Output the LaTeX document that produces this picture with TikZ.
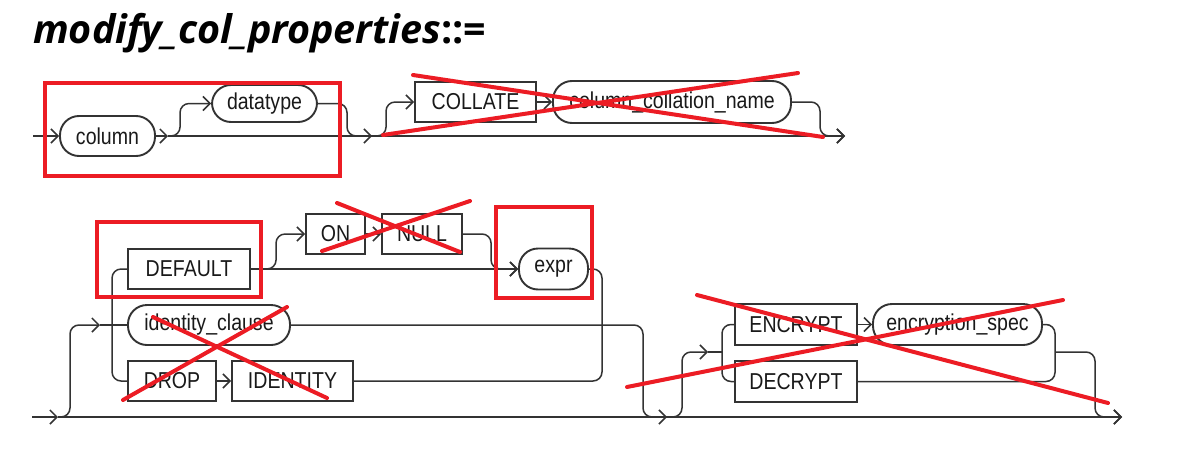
\documentclass[tikz,border=0pt]{standalone}
\usepackage{fontspec}
\usetikzlibrary{arrows.meta,calc}
\newfontfamily\diagfont[FakeStretch=0.85]{Liberation Sans}
\newfontfamily\titlefont{Open Sans}
\definecolor{ink}{HTML}{333333}
\definecolor{mark}{HTML}{EC1C24}
\tikzset{
  x=1pt, y=-1pt,
  kw/.style={draw=ink, line width=1.9pt, rectangle, inner sep=0pt, minimum height=40pt,
     font=\diagfont\fontsize{23}{26}\selectfont, text=black!90},
  nt/.style={kw, rounded corners=19pt},
  conn/.style={draw=ink, line width=1.5pt, rounded corners=9pt},
  arr/.style={conn, -{Straight Barb[length=7pt,width=14pt,line width=1.5pt]}},
  redbox/.style={draw=mark, line width=3.6pt},
  redx/.style={draw=mark, line width=4pt, line cap=round},
}
\begin{document}
\begin{tikzpicture}
\useasboundingbox[fill=white] (0,0) rectangle (1204,466);

% title
\node[anchor=base west, inner sep=0pt] (title) at (33,43)
  {\titlefont\fontsize{39.5}{42}\selectfont\bfseries{\itshape modify\_col\_properties}::=};

% ---------- row 1 ----------
\node[nt, minimum width=95pt]  (column)   at (107.5,136) {column};
\node[nt, minimum width=105pt, minimum height=37pt] (datatype) at (264.5,103.5) {datatype};
\node[kw, minimum width=121pt] (collate)  at (475.5,102) {COLLATE};
\node[nt, minimum width=238pt, minimum height=42pt] (collname) at (672,102) {column\_collation\_name};

\coordinate (s1) at (33,136);
\coordinate (j1) at (168,136);
\coordinate (j2) at (372,136);
\coordinate (e1) at (845,136);

\draw[arr] (s1) -- (column.west);
\draw[arr] (column.east) -- (j1);
\draw[conn] (j1) -- (j2);
\draw[arr] (j2) -- (e1);
\draw[arr] (j1) -| ([xshift=-31pt]datatype.west) -- (datatype.west);
\draw[arr] (datatype.east) -| ([xshift=-25pt]j2) -- (j2);
\draw[arr] (j2) -| ([xshift=-28pt]collate.west) -- (collate.west);
\draw[arr] (collate.east) -- (collname.west);
\draw[arr] (collname.east) -| ([xshift=-25pt]e1) -- (e1);

% ---------- row 2 ----------
\node[kw, minimum width=122pt] (default)  at (189,269) {DEFAULT};
\node[nt, minimum width=162pt] (idc)      at (209,325) {identity\_clause};
\node[kw, minimum width=88pt]  (drop)     at (172,381) {DROP};
\node[kw, minimum width=121pt] (identity) at (292.5,381) {IDENTITY};
\node[kw, minimum width=59pt]  (on)       at (335.5,234) {ON};
\node[kw, minimum width=80pt]  (null)     at (422,234) {NULL};
\node[nt, minimum width=69pt, minimum height=41pt] (expr) at (553.5,269) {expr};
\node[kw, minimum width=122pt, minimum height=41pt] (encrypt) at (796,324.5) {ENCRYPT};
\node[nt, minimum width=169pt, minimum height=41pt] (encspec) at (957.5,324.5) {encryption\_spec};
\node[kw, minimum width=122pt, minimum height=41pt] (decrypt) at (796,381.5) {DECRYPT};

\coordinate (s2) at (32,417);
\coordinate (j3) at (58,417);
\coordinate (j4) at (100,325);
\coordinate (jd) at (262,269);
\coordinate (jx) at (602,381);
\coordinate (j5) at (667,417);
\coordinate (j6) at (708,352);
\coordinate (jv1) at (722,352);
\coordinate (jv2) at (1055,352);
\coordinate (e2) at (1122,417);

\draw[arr] (s2) -- (j3);
\draw[conn] (j3) -- (j5);
\draw[arr] (j5) -- (e2);
\draw[arr] (j3) -| ([xshift=-30pt]j4) -- (j4);
\draw[conn] (j4) -- (idc.west);
\draw[conn] (default.west) -| ([xshift=-15pt]drop.west) -- (drop.west);
\draw[arr] (drop.east) -- (identity.west);
\draw[arr] (default.east) -- (expr.west);
\draw[arr] (jd) -| ([xshift=-29pt]on.west) -- (on.west);
\draw[arr] (on.east) -- (null.west);
\draw[arr] (null.east) -| ([xshift=-27pt]expr.west) -- (expr.west);
\draw[conn] (expr.east) -| (jx) -- (identity.east);
\draw[arr] (idc.east) -| ([xshift=-24pt]j5) -- (j5);
\draw[arr] (j5) -| ([xshift=-26pt]j6) -- (j6);
\draw[conn] (j6) -- (jv1);
\draw[conn] (encrypt.west) -| (jv1) |- (decrypt.west);
\draw[arr] (encrypt.east) -- (encspec.west);
\draw[conn] (encspec.east) -| (jv2) |- (decrypt.east);
\draw[arr] (jv2) -| ([xshift=-27pt]e2) -- (e2);

% ---------- red annotations ----------
\draw[redbox] (45,83) rectangle (340,176);
\draw[redbox] (97,222) rectangle (261,297);
\draw[redbox] (496,207) rectangle (592,298);
\draw[redx] (413,75) -- (823,137);
\draw[redx] (383,135) -- (798,73);
\draw[redx] (337,203) -- (460,252);
\draw[redx] (322,251) -- (470,201);
\draw[redx] (153,317) -- (327,398);
\draw[redx] (123,400) -- (287,307);
\draw[redx] (697,295) -- (1108,403);
\draw[redx] (627,387) -- (1063,300);
\end{tikzpicture}
\end{document}
